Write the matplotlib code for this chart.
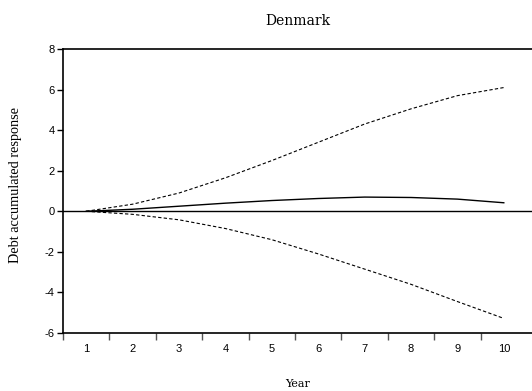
import numpy as np
import matplotlib.pyplot as plt

plt.rcParams["axes.unicode_minus"] = False

years = [1, 2, 3, 4, 5, 6, 7, 8, 9, 10]
response = [0.0, 0.10, 0.25, 0.40, 0.53, 0.63, 0.70, 0.68, 0.60, 0.42]
upper = [0.0, 0.35, 0.90, 1.65, 2.50, 3.40, 4.30, 5.05, 5.70, 6.10]
lower = [0.0, -0.15, -0.42, -0.85, -1.40, -2.10, -2.85, -3.60, -4.45, -5.28]

fig = plt.figure(figsize=(5.32, 3.91), dpi=100)
ax = fig.add_axes([63 / 532, 1 - 333 / 391, 469 / 532, 284 / 391])

ax.plot(years, response, color="black", lw=1.0)
ax.plot(years, upper, color="black", lw=0.8, ls=(0, (3, 2)))
ax.plot(years, lower, color="black", lw=0.8, ls=(0, (3, 2)))
ax.axhline(0, color="black", lw=1.0)

ax.set_xlim(0.5, 0.5 + 469 / 46.4)
ax.set_ylim(-6, 8)
ax.set_yticks(np.arange(-6, 9, 2))
ax.set_xticks(years)
ax.set_xticks(np.arange(0.5, 10, 1.0), minor=True)
ax.tick_params(axis="x", which="major", length=0, pad=8)
ax.tick_params(axis="x", which="minor", length=5, width=1, color="#555555")
ax.tick_params(axis="y", length=4, width=1, pad=2)
for lab in ax.get_xticklabels() + ax.get_yticklabels():
    lab.set_fontfamily("Liberation Sans")
    lab.set_fontsize(8)

ax.spines["right"].set_visible(False)
for s in ["left", "bottom", "top"]:
    ax.spines[s].set_linewidth(1.2)

ax.set_title("Denmark", family="DejaVu Serif", fontsize=10, pad=17)
ax.set_xlabel("Year", family="DejaVu Serif", fontsize=8, labelpad=18)
ax.set_ylabel("Debt accumulated response", family="Liberation Serif", fontsize=10.3)
ax.yaxis.set_label_coords(-0.087, 0.52)

fig.savefig("out.png", dpi=100)
